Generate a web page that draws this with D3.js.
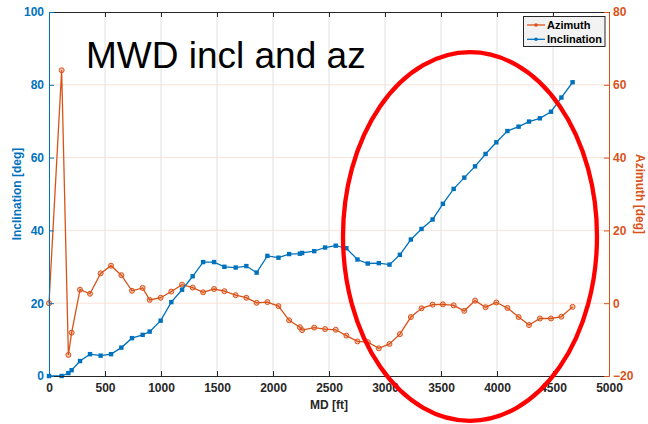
<!DOCTYPE html>
<html>
<head>
<meta charset="utf-8">
<script src="https://cdn.jsdelivr.net/npm/d3@7"></script>
<style>
  html, body { margin: 0; padding: 0; background: #fff; }
  svg { display: block; font-family: "Liberation Sans", Arial, Helvetica, sans-serif; }
</style>
</head>
<body>
<svg id="chart" width="648" height="424"></svg>
<script>
// ---- data ----
const md = [0,113,173,202,277,366,461,554,646,741,836,899,997,1092,1188,1283,1376,1474,1566,1667,1762,1854,1950,2049,2144,2240,2260,2368,2465,2560,2655,2754,2846,2945,3040,3133,3231,3326,3425,3517,3613,3708,3804,3898,3994,4093,4193,4286,4383,4482,4575,4675];
const inclination = [0,0,0.8,1.6,4.1,6.0,5.6,6.0,7.8,10.4,11.3,12.2,15.2,20.3,23.7,27.4,31.3,31.3,30.0,29.8,30.2,28.4,33.0,32.5,33.5,33.6,33.8,34.3,35.3,35.8,35.1,32.0,30.9,31.0,30.6,33.3,37.5,40.4,43.0,47.3,51.4,54.5,57.6,61.0,64.2,67.3,68.5,69.9,70.8,72.6,76.5,80.7];
const azimuth = [0,64,-14.2,-8.1,3.7,2.6,8.2,10.3,7.7,3.4,4.2,0.9,1.5,3.2,5.1,4.3,3.0,3.9,3.3,2.2,1.5,0.1,0.3,-0.8,-4.7,-6.6,-7.4,-6.7,-7.1,-7.3,-8.9,-10.5,-10.7,-12.4,-11.2,-8.5,-3.8,-1.4,-0.4,-0.3,-0.6,-2.1,0.7,-1.1,0.2,-1.3,-3.8,-6.0,-4.2,-4.2,-3.7,-1.0];
const xTicks = [0,500,1000,1500,2000,2500,3000,3500,4000,4500,5000];
const leftTicks = [0,20,40,60,80,100];
const rightTicks = [-20,0,20,40,60,80];
const seriesNames = ["Azimuth","Inclination"];
const titleText = "MWD incl and az";
const xLabel = "MD [ft]";
const leftLabel = "Inclination [deg]";
const rightLabel = "Azimuth [deg]";

// ---- layout ----
const L = 49, R = 609, T = 12, B = 376;
const blue = "#0072BD", orange = "#D95319", dark = "#262626";

const svg = d3.select("#chart");
const x = d3.scaleLinear().domain([0,5000]).range([L,R]);
const yL = d3.scaleLinear().domain([0,100]).range([B,T]);
const yR = d3.scaleLinear().domain([-20,80]).range([B,T]);

// grid
const grid = svg.append("g");
grid.selectAll(".vg").data(xTicks.filter(t => t > 0 && t < 5000)).enter().append("line")
  .attr("x1", d => x(d)).attr("x2", d => x(d)).attr("y1", T).attr("y2", B)
  .attr("stroke", "#e0e0e0").attr("stroke-width", 1);
grid.selectAll(".hg").data(rightTicks.filter(t => t > -20 && t < 80)).enter().append("line")
  .attr("x1", L).attr("x2", R).attr("y1", d => yR(d)).attr("y2", d => yR(d))
  .attr("stroke", "#f9e3d9").attr("stroke-width", 1);

// title
svg.append("text").attr("x", 86).attr("y", 68).attr("font-size", 37)
  .attr("fill", "#000").text(titleText);

// data
const pts = md.map((m,i) => ({m, inc: inclination[i], az: azimuth[i]}));
const lineAz = d3.line().x(d => x(d.m)).y(d => yR(d.az));
const lineInc = d3.line().x(d => x(d.m)).y(d => yL(d.inc));

svg.append("path").datum(pts).attr("d", lineAz).attr("fill", "none")
  .attr("stroke", orange).attr("stroke-width", 1.3);
svg.append("g").selectAll("circle").data(pts).enter().append("circle")
  .attr("cx", d => x(d.m)).attr("cy", d => yR(d.az)).attr("r", 2.5)
  .attr("fill", "rgba(217,83,25,0.35)").attr("stroke", orange).attr("stroke-width", 1);

svg.append("path").datum(pts).attr("d", lineInc).attr("fill", "none")
  .attr("stroke", blue).attr("stroke-width", 1.3);
svg.append("g").selectAll("rect").data(pts).enter().append("rect")
  .attr("x", d => x(d.m) - 2.2).attr("y", d => yL(d.inc) - 2.2)
  .attr("width", 4.4).attr("height", 4.4).attr("fill", blue);

// axes
const fontAxis = g => g.attr("font-family", null).attr("font-size", 12).attr("font-weight", "bold");

const xAxis = svg.append("g").attr("transform", `translate(0,${B})`)
  .call(d3.axisBottom(x).tickValues(xTicks).tickFormat(d3.format("d")).tickSize(-5).tickSizeOuter(0).tickPadding(7))
  .call(fontAxis);
xAxis.select(".domain").attr("stroke", dark);
xAxis.selectAll(".tick line").attr("stroke", dark);
xAxis.selectAll("text").attr("fill", dark);

const xTop = svg.append("g").attr("transform", `translate(0,${T})`)
  .call(d3.axisTop(x).tickValues(xTicks).tickFormat("").tickSize(-5).tickSizeOuter(0));
xTop.select(".domain").attr("stroke", dark);
xTop.selectAll(".tick line").attr("stroke", dark);

const yAxisL = svg.append("g").attr("transform", `translate(${L},0)`)
  .call(d3.axisLeft(yL).tickValues(leftTicks).tickSize(-5).tickSizeOuter(0).tickPadding(5))
  .call(fontAxis);
yAxisL.select(".domain").attr("stroke", blue);
yAxisL.selectAll(".tick line").attr("stroke", blue);
yAxisL.selectAll("text").attr("fill", blue);

const yAxisR = svg.append("g").attr("transform", `translate(${R},0)`)
  .call(d3.axisRight(yR).tickValues(rightTicks).tickSize(-5).tickSizeOuter(0).tickPadding(4))
  .call(fontAxis);
yAxisR.select(".domain").attr("stroke", orange);
yAxisR.selectAll(".tick line").attr("stroke", orange);
yAxisR.selectAll("text").attr("fill", orange);

// axis labels
svg.append("text").attr("x", (L+R)/2).attr("y", 409).attr("text-anchor", "middle")
  .attr("font-size", 12).attr("font-weight", "bold").attr("fill", dark).text(xLabel);
svg.append("text").attr("transform", `translate(20.5,${(T+B)/2}) rotate(-90)`)
  .attr("text-anchor", "middle").attr("font-size", 12).attr("font-weight", "bold")
  .attr("fill", blue).text(leftLabel);
svg.append("text").attr("transform", `translate(636,${(T+B)/2}) rotate(90)`)
  .attr("text-anchor", "middle").attr("font-size", 12).attr("font-weight", "bold")
  .attr("fill", orange).text(rightLabel);

// legend
const lg = svg.append("g");
lg.append("rect").attr("x", 523.5).attr("y", 16.5).attr("width", 81.5).attr("height", 30)
  .attr("fill", "#f2f2f2").attr("stroke", dark).attr("stroke-width", 1);
const legendColors = [orange, blue];
seriesNames.forEach((name, i) => {
  const cy = 25 + i * 14.3;
  lg.append("line").attr("x1", 527).attr("x2", 545).attr("y1", cy).attr("y2", cy)
    .attr("stroke", legendColors[i]).attr("stroke-width", 1.3);
  lg.append("circle").attr("cx", 536).attr("cy", cy).attr("r", 1.8).attr("fill", legendColors[i]);
  lg.append("text").attr("x", 547).attr("y", cy).attr("dy", "0.35em")
    .attr("font-size", 11).attr("font-weight", "bold").attr("fill", "#000").text(name);
});

// red annotation ellipse
svg.append("ellipse").attr("cx", 470).attr("cy", 236.5).attr("rx", 127).attr("ry", 184.3)
  .attr("fill", "none").attr("stroke", "#ff0000").attr("stroke-width", 4.3);
</script>
</body>
</html>
